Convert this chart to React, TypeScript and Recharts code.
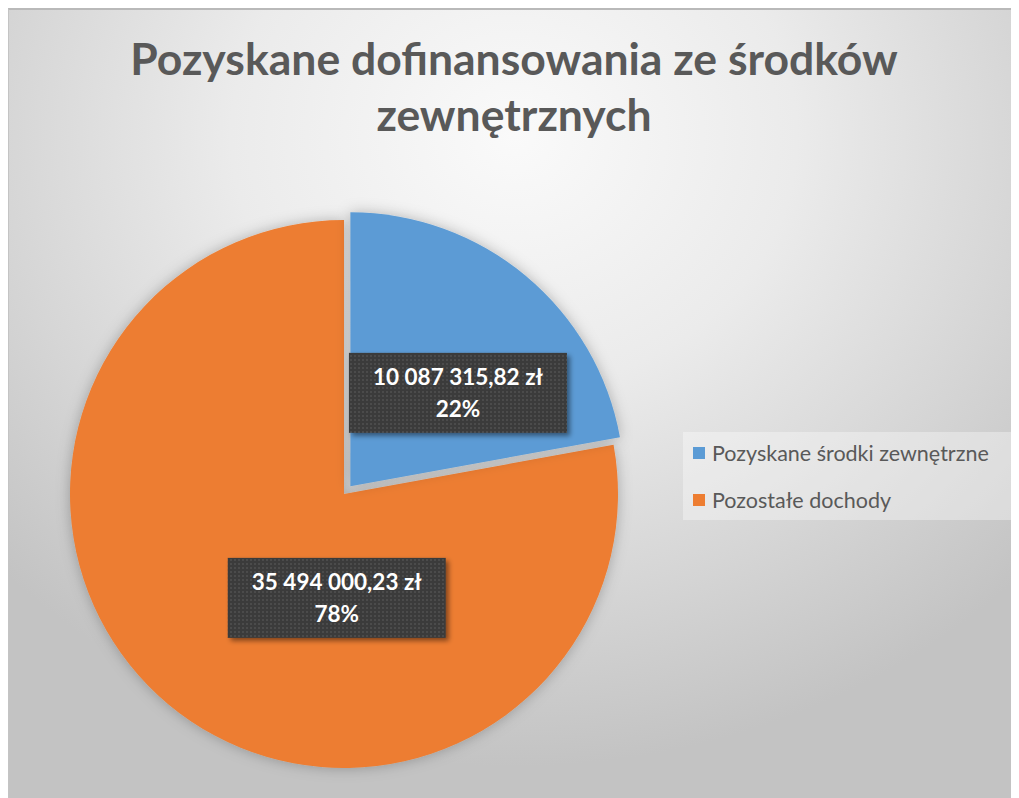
import React from "react";
import { Cell, Legend, Pie, PieChart } from "recharts";

const categories = ["Pozyskane środki zewnętrzne", "Pozostałe dochody"];
const amounts = [10087315.82, 35494000.23];
const sliceColors = ["#5b9bd5", "#ed7d31"];

// where each data label sits: polar angle (deg) and fraction of the radius
const labelPlacement = [
  { angle: 41, radius: 0.52 },
  { angle: 266, radius: 0.38 }
];

const WIDTH = 1011;
const HEIGHT = 790;
const CX = 335;
const CY = 484;
const RADIUS = 274;
const EXPLODE = 10;

const pieData = categories.map((name, i) => ({ name, value: amounts[i] }));
const total = amounts.reduce((a, b) => a + b, 0);
const blueMid = ((90 - (amounts[0] / total) * 180) * Math.PI) / 180;

const formatZl = (v: number) => {
  const [int, dec] = v.toFixed(2).split(".");
  return int.replace(/\B(?=(\d{3})+(?!\d))/g, " ") + "," + dec + " zł";
};

const labelFont = "bold 22.5px Lato";
let canvasCtx: CanvasRenderingContext2D | null = null;
const textWidth = (s: string) => {
  if (!canvasCtx) canvasCtx = document.createElement("canvas").getContext("2d");
  if (!canvasCtx) return s.length * 11;
  canvasCtx.font = labelFont;
  return canvasCtx.measureText(s).width;
};

const makeLabel = (showIndex: number) => (props: any) => {
  const { index, cx, cy, outerRadius, value, percent } = props;
  if (index !== showIndex) return null;
  const p = labelPlacement[index];
  const a = (p.angle * Math.PI) / 180;
  const x = cx + outerRadius * p.radius * Math.cos(a);
  const y = cy - outerRadius * p.radius * Math.sin(a);
  const line1 = formatZl(value);
  const w = Math.round(textWidth(line1) + 48);
  const h = 80;
  return (
    <g>
      <rect x={x - w / 2} y={y - h / 2} width={w} height={h} fill="url(#lblPattern)" filter="url(#lblShadow)" />
      <text x={x} y={y - 8} textAnchor="middle" fill="#ffffff" style={{ font: labelFont }}>
        {line1}
      </text>
      <text x={x} y={y + 24} textAnchor="middle" fill="#ffffff" style={{ font: labelFont }}>
        {Math.round(percent * 100)}%
      </text>
    </g>
  );
};

const LegendBox = () => (
  <div
    style={{
      background: "rgba(255,255,255,0.35)",
      padding: "5px 10px 4px",
      fontFamily: "Lato",
      fontSize: 21.5,
      color: "#595959"
    }}
  >
    {categories.map((name, i) => (
      <div key={name} style={{ display: "flex", alignItems: "center", height: 32, marginTop: i ? 15 : 0 }}>
        <span style={{ width: 12, height: 12, background: sliceColors[i], marginRight: 7, display: "inline-block" }} />
        {name}
      </div>
    ))}
  </div>
);

export default function App() {
  return (
    <div
      style={{
        position: "relative",
        width: WIDTH,
        height: HEIGHT,
        boxSizing: "border-box",
        borderTop: "2px solid #b9b9b9",
        borderLeft: "1px solid #c4c4c4",
        background:
          "radial-gradient(ellipse 70% 80% at 50% 16%, #fafafa 0%, #ebebeb 40%, #d6d6d6 72%, #c3c3c3 100%)"
      }}
    >
      <div
        style={{
          position: "absolute",
          top: 20,
          left: 0,
          width: "100%",
          textAlign: "center",
          fontFamily: "Lato",
          fontWeight: 700,
          fontSize: 44.5,
          lineHeight: "56px",
          color: "#595959"
        }}
      >
        Pozyskane dofinansowania ze środków
        <br />
        zewnętrznych
      </div>
      <div style={{ position: "absolute", top: 0, left: 0 }}>
        <PieChart width={WIDTH - 1} height={HEIGHT - 2} margin={{ top: 0, right: 0, bottom: 0, left: 0 }}>
          <defs>
            <filter id="pieShadow" x="-20%" y="-20%" width="140%" height="140%">
              <feDropShadow dx="0" dy="0" stdDeviation="7" floodColor="#000" floodOpacity="0.26" />
            </filter>
            <filter id="lblShadow" x="-10%" y="-20%" width="130%" height="150%">
              <feDropShadow dx="3" dy="3" stdDeviation="2.5" floodColor="#000" floodOpacity="0.45" />
            </filter>
            <pattern id="lblPattern" width="4" height="4" patternUnits="userSpaceOnUse">
              <rect width="4" height="4" fill="#3a3a3a" />
              <circle cx="2" cy="2" r="0.9" fill="#545454" />
            </pattern>
          </defs>
          <Pie
            data={pieData}
            dataKey="value"
            nameKey="name"
            cx={CX}
            cy={CY}
            outerRadius={RADIUS}
            startAngle={90}
            endAngle={-270}
            stroke="none"
            labelLine={false}
            label={makeLabel(1)}
            isAnimationActive={false}
          >
            {pieData.map((d, i) => (
              <Cell key={d.name} fill={i === 1 ? sliceColors[1] : "transparent"} filter={i === 1 ? "url(#pieShadow)" : undefined} />
            ))}
          </Pie>
          <Pie
            data={pieData}
            dataKey="value"
            nameKey="name"
            cx={CX + EXPLODE * Math.cos(blueMid)}
            cy={CY - EXPLODE * Math.sin(blueMid)}
            outerRadius={RADIUS}
            startAngle={90}
            endAngle={-270}
            stroke="none"
            labelLine={false}
            label={makeLabel(0)}
            legendType="none"
            isAnimationActive={false}
          >
            {pieData.map((d, i) => (
              <Cell key={d.name} fill={i === 0 ? sliceColors[0] : "transparent"} filter={i === 0 ? "url(#pieShadow)" : undefined} />
            ))}
          </Pie>
          <Legend
            content={() => <LegendBox />}
            wrapperStyle={{ position: "absolute", left: 674, top: 422, width: 330, bottom: "auto" }}
          />
        </PieChart>
      </div>
    </div>
  );
}
